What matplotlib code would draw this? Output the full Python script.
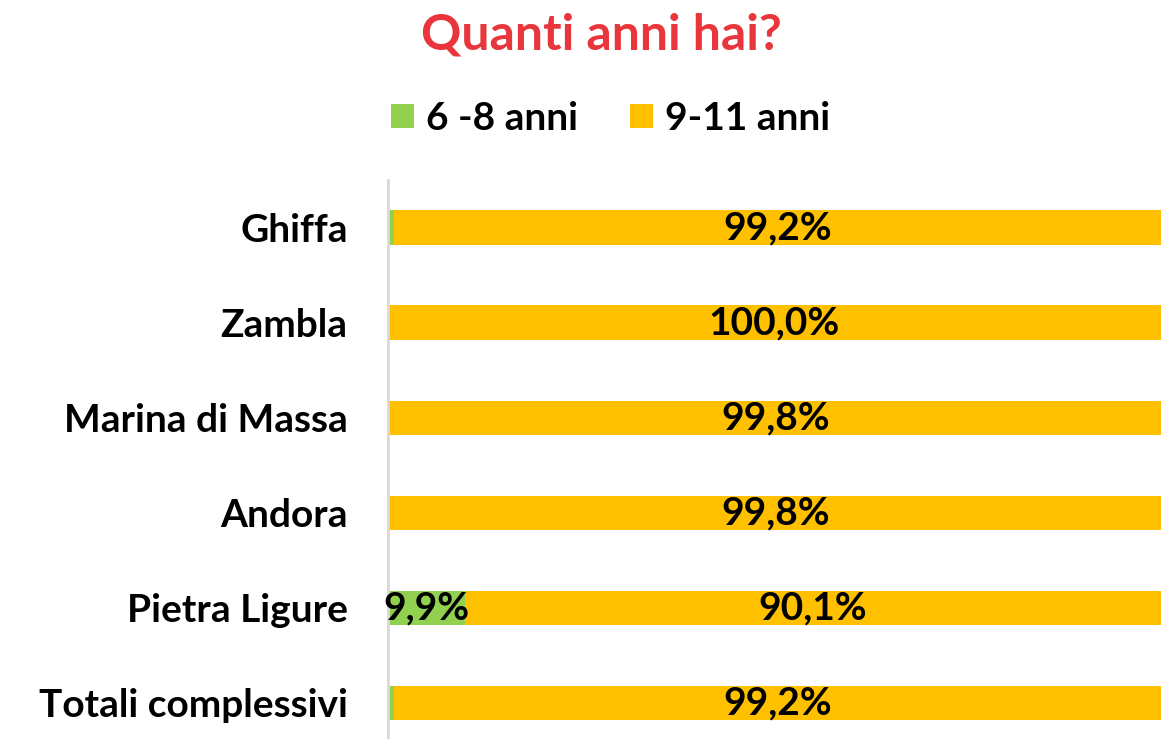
import numpy as np
import matplotlib
matplotlib.use("Agg")
from matplotlib import pyplot as plt

# Data (percent)
places = ["Ghiffa", "Zambla", "Marina di Massa", "Andora", "Pietra Ligure", "Totali complessivi"]
age_6_8 = [0.8, 0.0, 0.2, 0.2, 9.9, 0.8]
age_9_11 = [99.2, 100.0, 99.8, 99.8, 90.1, 99.2]
series_names = ["6 -8 anni", "9-11 anni"]
colors = ["#92D050", "#FFC000"]

plt.rcParams['font.family'] = ['Lato', 'DejaVu Sans']
plt.rcParams['font.weight'] = 'bold'

fig = plt.figure(figsize=(11.66, 7.39), dpi=100)
ax = fig.add_axes([388 / 1166, 0.0, (1161 - 388) / 1166, (739 - 180) / 739])

y = np.arange(len(places))
bar_h = 0.36
ax.barh(y, age_6_8, height=bar_h, color=colors[0], label=series_names[0])
ax.barh(y, age_9_11, left=age_6_8, height=bar_h, color=colors[1], label=series_names[1])

# value labels (small segments are skipped, as in the original)
for i in range(len(places)):
    g, o = age_6_8[i], age_9_11[i]
    if g >= 5:
        ax.text(g / 2, i, f"{g:.1f}%".replace(".", ","), ha="center", va="center",
                fontsize=28, fontweight="bold", color="black")
    if o >= 5:
        ax.text(g + o / 2, i, f"{o:.1f}%".replace(".", ","), ha="center", va="center",
                fontsize=28, fontweight="bold", color="black")

ax.set_xlim(0, 100)
ax.set_ylim(5.38, -0.5)
ax.set_yticks(y)
ax.set_yticklabels(places, fontsize=28, fontweight="bold")
ax.tick_params(axis="y", length=0, pad=29)
ax.set_xticks([])
for s in ["top", "right", "bottom"]:
    ax.spines[s].set_visible(False)
ax.spines["left"].set_color("#D9D9D9")
ax.spines["left"].set_linewidth(2)

fig.text(0.516, 0.952, "Quanti anni hai?", ha="center", va="center",
         fontsize=36, fontweight="bold", color="#E8363C")

fig.legend(loc="center", bbox_to_anchor=(0.5236, 0.84), ncol=2, frameon=False,
           prop={"size": 28, "weight": "bold"}, handlelength=0.6, handleheight=0.6,
           handletextpad=0.3, columnspacing=1.33)

fig.savefig("out.png", dpi=100)
